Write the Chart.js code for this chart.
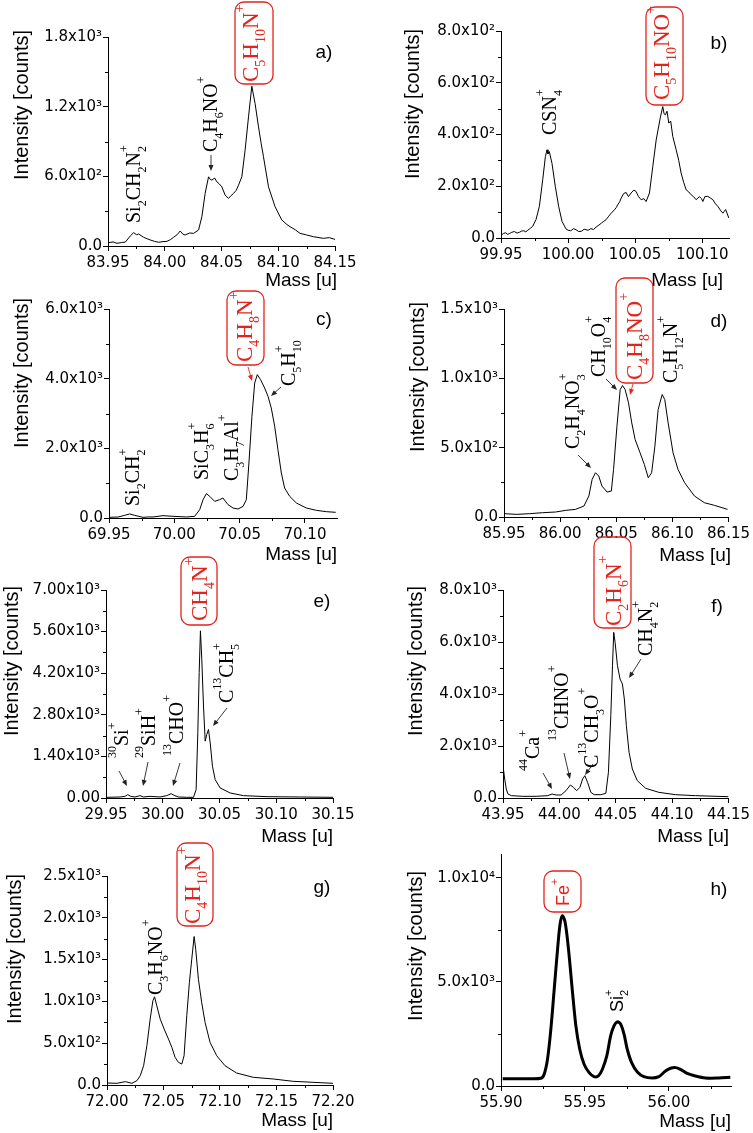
<!DOCTYPE html>
<html><head><meta charset="utf-8">
<script src="https://cdn.jsdelivr.net/npm/chart.js@4.4.1/dist/chart.umd.min.js"></script>
<style>
html,body{margin:0;padding:0;background:#fff;}
#wrap{position:relative;width:753px;height:1133px;overflow:hidden;background:#fff;}
canvas{position:absolute;}
</style></head><body><div id="wrap"></div>
<script>
// ---------- DATA ----------
const massA = [83.9506,83.9545,83.9579,83.962,83.9653,83.9696,83.9726,83.975,83.977,83.9814,83.9845,83.9872,83.991,83.9946,83.9985,84.0019,84.005,84.0078,84.011,84.0136,84.016,84.018,84.022,84.0254,84.0298,84.0327,84.0356,84.0386,84.040,84.0415,84.044,84.0459,84.048,84.0503,84.0532,84.0562,84.058,84.0606,84.063,84.065,84.0679,84.0708,84.0738,84.0767,84.0796,84.0826,84.085,84.087,84.0914,84.0972,84.1031,84.107,84.1104,84.115,84.1192,84.125,84.131,84.1398,84.145,84.15];
const intA  = [29,35,23,30,34,86,115,98,103,75,62,52,40,32,38,40,55,75,98,129,102,95,112,109,138,252,453,596,575,567,585,553,535,510,438,410,430,453,480,524,596,825,1112,1376,1227,1026,880,768,510,338,224,190,166,140,109,95,80,66,72,57];

const massB = [99.9507,99.952,99.9535,99.955,99.9562,99.958,99.96,99.962,99.9637,99.9655,99.967,99.9685,99.97,99.972,99.9736,99.9761,99.9786,99.9811,99.9831,99.9843,99.985,99.986,99.988,99.9905,99.993,99.9955,99.9985,100.000,100.002,100.004,100.006,100.008,100.010,100.012,100.0134,100.015,100.017,100.019,100.0209,100.023,100.025,100.0265,100.0284,100.030,100.032,100.0346,100.036,100.037,100.0385,100.0396,100.0415,100.0433,100.045,100.047,100.049,100.0507,100.0525,100.0545,100.0565,100.0582,100.0607,100.0632,100.0657,100.0687,100.0706,100.0716,100.0726,100.0738,100.0751,100.0765,100.0781,100.0806,100.0825,100.0843,100.0862,100.0881,100.09,100.0918,100.0935,100.0955,100.098,100.0995,100.1005,100.102,100.1042,100.106,100.108,100.1095,100.1117,100.1135,100.1154,100.1175,100.1199];
const intB  = [13,18,20,14,17,22,25,19,22,27,28,24,30,38,45,71,122,225,315,341,325,334,289,199,122,64,35,30,28,36,32,25,26,34,32,30,36,33,42,50,58,64,71,82,95,109,118,128,140,154,172,176,160,174,185,180,160,148,152,141,174,277,379,463,508,480,476,490,444,452,392,341,300,251,215,186,178,167,160,148,160,152,141,160,161,155,148,135,122,108,96,110,77];

const massC = [69.9505,69.957,69.962,69.9658,69.9696,69.976,69.98,69.9837,69.9913,69.999,70.0092,70.0156,70.0194,70.022,70.0245,70.0271,70.0309,70.0347,70.0372,70.0411,70.0449,70.0487,70.0526,70.0551,70.0571,70.0594,70.0615,70.0635,70.066,70.0691,70.0717,70.0742,70.0768,70.0793,70.0819,70.0844,70.0883,70.0934,70.101,70.1087,70.1163,70.1235];
const intC  = [19,29,77,115,77,19,30,29,67,48,29,48,239,526,699,622,478,526,574,383,287,258,335,526,1579,2919,3875,4115,3971,3732,3493,3158,2632,1962,1292,861,622,431,287,220,182,163];

const massD = [85.9506,85.9609,85.9726,85.9844,85.996,86.005,86.0138,86.0212,86.0256,86.0285,86.0315,86.0344,86.0373,86.0418,86.0456,86.0476,86.0506,86.0535,86.0556,86.0579,86.0609,86.0638,86.0668,86.0712,86.075,86.0785,86.0815,86.0844,86.0873,86.0909,86.0932,86.0962,86.1006,86.105,86.1109,86.1197,86.1285,86.1374,86.1491];
const intD  = [24,19,24,31,36,48,55,79,151,271,319,295,223,180,187,343,655,919,948,919,823,679,559,463,379,283,319,511,775,883,847,679,463,343,247,151,103,84,55];

const massE = [29.9506,29.9624,29.9668,29.9691,29.9718,29.9756,29.98,29.983,29.9888,29.9976,30.0035,30.0074,30.01,30.0138,30.0212,30.0271,30.0294,30.0309,30.0321,30.0332,30.0344,30.0359,30.0374,30.0388,30.0403,30.0418,30.0438,30.0462,30.0506,30.0594,30.0712,30.0918,30.1212,30.15];
const intE  = [23,34,56,113,56,34,79,34,56,34,79,146,90,34,23,23,281,2195,4220,5627,4670,3095,1913,2138,2307,1857,1069,619,338,169,79,45,34,23];

const massF = [43.95,43.9515,43.9529,43.9544,43.9574,43.9676,43.9794,43.9897,43.9935,43.9971,44.0015,44.0059,44.0097,44.0126,44.0153,44.0182,44.0206,44.0226,44.025,44.0279,44.0309,44.0368,44.0412,44.0435,44.0456,44.0471,44.0482,44.0494,44.0515,44.0538,44.0559,44.0576,44.0594,44.0618,44.0647,44.0691,44.0765,44.0882,44.1029,44.1206,44.15];
const intF  = [1244,731,346,154,90,64,64,90,154,115,115,282,500,410,282,410,731,859,603,218,128,128,180,987,3167,5090,6372,5987,5090,4577,4384,3808,2782,1756,1115,667,372,218,128,90,51];

const massG = [72.0006,72.0088,72.0162,72.022,72.0265,72.0294,72.0324,72.0353,72.0382,72.0406,72.0421,72.0441,72.0471,72.0506,72.0544,72.0574,72.0603,72.0632,72.0662,72.0682,72.0706,72.0729,72.075,72.0771,72.0785,72.0809,72.0838,72.0868,72.0912,72.0971,72.1044,72.1147,72.1294,72.147,72.1647,72.1824,72.2];
const intG  = [24,20,40,20,52,111,231,470,788,1007,1055,947,788,669,549,450,330,271,251,350,828,1226,1505,1776,1624,1266,987,748,510,350,231,143,92,72,44,32,20];

const massH = [55.901,55.9149,55.9238,55.9257,55.9277,55.9297,55.9317,55.9337,55.9352,55.9366,55.9382,55.9402,55.9426,55.9446,55.9469,55.9495,55.9525,55.9554,55.958,55.9604,55.963,55.9653,55.9673,55.9693,55.9713,55.9733,55.9752,55.9778,55.9812,55.9851,55.9901,55.994,55.998,56.001,56.004,56.0069,56.0109,56.0158,56.0218,56.0297,56.0366];
const intH  = [353,353,369,562,1284,2729,4655,6581,7784,8186,7865,6581,4494,2889,1766,1043,642,449,482,803,1445,2408,2889,3082,2970,2488,1766,1124,674,449,385,449,722,851,883,803,610,482,385,385,417];

// tick values and labels
const xTicksA = [83.95,84.00,84.05,84.10,84.15];
const yTicksA = [0,600,1200,1800];        const yLabA = ['0.0','6.0x10²','1.2x10³','1.8x10³'];
const xTicksB = [99.95,100.00,100.05,100.10];
const yTicksB = [0,200,400,600,800];      const yLabB = ['0.0','2.0x10²','4.0x10²','6.0x10²','8.0x10²'];
const xTicksC = [69.95,70.00,70.05,70.10];
const yTicksC = [0,2000,4000,6000];       const yLabC = ['0.0','2.0x10³','4.0x10³','6.0x10³'];
const xTicksD = [85.95,86.00,86.05,86.10,86.15];
const yTicksD = [0,500,1000,1500];        const yLabD = ['0.0','5.0x10²','1.0x10³','1.5x10³'];
const xTicksE = [29.95,30.00,30.05,30.10,30.15];
const yTicksE = [0,1400,2800,4200,5600,7000]; const yLabE = ['0.00','1.40x10³','2.80x10³','4.20x10³','5.60x10³','7.00x10³'];
const xTicksF = [43.95,44.00,44.05,44.10,44.15];
const yTicksF = [0,2000,4000,6000,8000];  const yLabF = ['0.0','2.0x10³','4.0x10³','6.0x10³','8.0x10³'];
const xTicksG = [72.00,72.05,72.10,72.15,72.20];
const yTicksG = [0,500,1000,1500,2000,2500]; const yLabG = ['0.0','5.0x10²','1.0x10³','1.5x10³','2.0x10³','2.5x10³'];
const xTicksH = [55.90,55.95,56.00];
const yTicksH = [0,5000,10000];           const yLabH = ['0.0','5.0x10³','1.0x10⁴'];

// ---------- LAYOUT / STYLE ----------
const RED = '#e3241c';
const SERIF = '"Liberation Serif", "Times New Roman", serif';
const SANS = '"Liberation Sans", Arial, sans-serif';
const TICKFONT = 'DejaVu Sans';

const panels = [
 {m:massA, v:intA, xt:xTicksA, yt:yTicksA, yl:yLabA, xmin:83.95, xmax:84.15, ymax:1800, col:0,row:0,
  area:[108,335,37,246], letter:'a)', lp:[324,53], yT:[22,105], xT:[337,281], lw:1,
  ann:[
   {f:'Si_2CH_2N_2^+', x:140, y:223, s:20, c:'#000'},
   {f:'C_4H_6NO^+', x:217, y:152, s:20, c:'#000', arrow:[211,155,211,171]},
   {f:'C_5H_{10}N^+', x:258, y:82, s:23, c:RED, box:[235,2,38,82]}
  ]},
 {m:massB, v:intB, xt:xTicksB, yt:yTicksB, yl:yLabB, xmin:99.95, xmax:100.12, ymax:800, col:1,row:0,
  area:[501,729,31,238], letter:'b)', lp:[719,44], yT:[413,104], xT:[723,281], lw:1,
  ann:[
   {f:'CSN_4^+', x:556, y:135, s:20, c:'#000'},
   {f:'C_5H_{10}NO^+', x:669, y:100, s:23, c:RED, box:[646,7,37,98]}
  ]},
 {m:massC, v:intC, xt:xTicksC, yt:yTicksC, yl:yLabC, xmin:69.95, xmax:70.1245, ymax:6000, col:0,row:1,
  area:[109,337,309,518], letter:'c)', lp:[324,320], yT:[22,373], xT:[337,555], lw:1,
  ann:[
   {f:'Si_2CH_2^+', x:139, y:506, s:20, c:'#000'},
   {f:'SiC_3H_6^+', x:208, y:480, s:20, c:'#000'},
   {f:'C_3H_7Al^+', x:238, y:481, s:20, c:'#000'},
   {f:'C_4H_8N^+', x:252, y:362, s:23, c:RED, box:[227,291,37,74], arrow:[248,367,252,381]},
   {f:'C_5H_{10}^+', x:295, y:386, s:20, c:'#000', arrow:[281,387,271,396]}
  ]},
 {m:massD, v:intD, xt:xTicksD, yt:yTicksD, yl:yLabD, xmin:85.95, xmax:86.15, ymax:1500, col:1,row:1,
  area:[504,730,309,517], letter:'d)', lp:[719,322], yT:[418,377], xT:[731,556], lw:1,
  ann:[
   {f:'C_2H_4NO_3^+', x:579, y:449, s:20, c:'#000', arrow:[578,455,591,468]},
   {f:'CH_{10}O_4^+', x:605, y:377, s:20, c:'#000', arrow:[606,379,617,390]},
   {f:'C_4H_8NO^+', x:642, y:380, s:23, c:RED, box:[616,278,37,105], arrow:[633,384,630,395]},
   {f:'C_5H_{12}N^+', x:677, y:383, s:20, c:'#000'}
  ]},
 {m:massE, v:intE, xt:xTicksE, yt:yTicksE, yl:yLabE, xmin:29.95, xmax:30.15, ymax:7000, col:0,row:2,
  area:[106,333,590,798], letter:'e)', lp:[322,602], yT:[12,661], xT:[333,837], lw:1,
  ann:[
   {f:'^{30}Si^+', x:128, y:758, s:20, c:'#000', arrow:[119,771,127,786]},
   {f:'^{29}SiH^+', x:155, y:758, s:20, c:'#000', arrow:[148,762,143,786]},
   {f:'^{13}CHO^+', x:183, y:756, s:20, c:'#000', arrow:[180,763,173,786]},
   {f:'CH_4N^+', x:207, y:621, s:23, c:RED, box:[181,557,36,68]},
   {f:'C^{13}CH_5^+', x:233, y:703, s:20, c:'#000', arrow:[227,708,213,726]}
  ]},
 {m:massF, v:intF, xt:xTicksF, yt:yTicksF, yl:yLabF, xmin:43.95, xmax:44.15, ymax:8000, col:1,row:2,
  area:[503,729,590,798], letter:'f)', lp:[717,607], yT:[416,661], xT:[729,837], lw:1,
  ann:[
   {f:'^{44}Ca^+', x:539, y:771, s:20, c:'#000', arrow:[543,773,552,789]},
   {f:'^{13}CHNO^+', x:568, y:741, s:20, c:'#000', arrow:[564,753,570,779]},
   {f:'C^{13}CH_3O^+', x:598, y:768, s:20, c:'#000', arrow:[593,764,585,775]},
   {f:'C_2H_6N^+', x:621, y:626, s:23, c:RED, box:[594,537,37,91]},
   {f:'CH_4N_2^+', x:652, y:656, s:20, c:'#000', arrow:[641,659,629,678]}
  ]},
 {m:massG, v:intG, xt:xTicksG, yt:yTicksG, yl:yLabG, xmin:72.00, xmax:72.20, ymax:2500, col:0,row:3,
  area:[107,333,876,1085], letter:'g)', lp:[322,888], yT:[15,949], xT:[333,1121], lw:1,
  ann:[
   {f:'C_3H_6NO^+', x:162, y:995, s:20, c:'#000'},
   {f:'C_4H_{10}N^+', x:200, y:924, s:23, c:RED, box:[177,843,36,83]}
  ]},
 {m:massH, v:intH, xt:xTicksH, yt:yTicksH, yl:yLabH, xmin:55.90, xmax:56.037, ymax:11150, col:1,row:3,
  area:[501,731,854,1086], letter:'h)', lp:[719,890], yT:[416,946], xT:[731,1122], lw:3,
  ann:[
   {f:'Fe^+', x:569, y:906, s:18, c:RED, sans:true, box:[544,871,37,41]},
   {f:'Si_2^+', x:623, y:1012, s:18, c:'#000', sans:true}
  ]}
];

const rowTop = [0,283,566,849], rowBot = [283,566,849,1133];

// ---------- helpers ----------
function parseFormula(s){
  const parts=[]; let i=0, buf='';
  while(i<s.length){
    const c=s[i];
    if(c==='_'||c==='^'){
      if(buf){parts.push([buf,'n']);buf='';}
      i++; let t='';
      if(s[i]==='{'){ i++; while(s[i]!=='}'){t+=s[i];i++;} i++; } else { t=s[i]; i++; }
      parts.push([t, c==='_'?'b':'p']);
    } else { buf+=c; i++; }
  }
  if(buf) parts.push([buf,'n']);
  return parts;
}
function drawFormula(ctx, f, x, y, size, family, color){
  const parts=parseFormula(f);
  ctx.save(); ctx.translate(x,y); ctx.rotate(-Math.PI/2);
  ctx.fillStyle=color; ctx.textBaseline='alphabetic'; ctx.textAlign='left';
  let pos=0, prevType=null, prevStart=0;
  const ss=Math.round(size*0.62);
  for(const [t,ty] of parts){
    if(ty==='n'){
      ctx.font=size+'px '+family; ctx.fillText(t,pos,0); pos+=ctx.measureText(t).width;
    } else {
      ctx.font=ss+'px '+family;
      const w=ctx.measureText(t).width;
      if(ty==='p' && prevType==='b'){
        ctx.fillText(t,prevStart,-size*0.6);
        pos=Math.max(pos,prevStart+w);
      } else {
        ctx.fillText(t,pos, ty==='b'? size*0.3 : -size*0.6);
        prevStart=pos; pos+=w;
      }
    }
    prevType=ty;
  }
  ctx.restore();
}
function arrow(ctx,x1,y1,x2,y2,color){
  const a=Math.atan2(y2-y1,x2-x1), L=6, W=2.5;
  ctx.save(); ctx.strokeStyle=color; ctx.fillStyle=color; ctx.lineWidth=0.9;
  ctx.beginPath(); ctx.moveTo(x1,y1); ctx.lineTo(x2-Math.cos(a)*L*0.7, y2-Math.sin(a)*L*0.7); ctx.stroke();
  ctx.beginPath(); ctx.moveTo(x2,y2);
  ctx.lineTo(x2-L*Math.cos(a)+W*Math.sin(a), y2-L*Math.sin(a)-W*Math.cos(a));
  ctx.lineTo(x2-L*Math.cos(a)-W*Math.sin(a), y2-L*Math.sin(a)+W*Math.cos(a));
  ctx.closePath(); ctx.fill(); ctx.restore();
}
function rbox(ctx,x,y,w,h,r,color){
  ctx.save(); ctx.strokeStyle=color; ctx.lineWidth=1.3;
  ctx.beginPath();
  ctx.moveTo(x+r,y); ctx.lineTo(x+w-r,y); ctx.arcTo(x+w,y,x+w,y+r,r);
  ctx.lineTo(x+w,y+h-r); ctx.arcTo(x+w,y+h,x+w-r,y+h,r);
  ctx.lineTo(x+r,y+h); ctx.arcTo(x,y+h,x,y+h-r,r);
  ctx.lineTo(x,y+r); ctx.arcTo(x,y,x+r,y,r); ctx.closePath(); ctx.stroke(); ctx.restore();
}

function decoPlugin(p, cL, cT){
  return {
    id:'deco'+p.letter[0],
    afterDraw(chart){
      const ctx=chart.ctx, xs=chart.scales.x, ys=chart.scales.y, ca=chart.chartArea;
      ctx.save();
      // minor ticks
      ctx.strokeStyle='#000'; ctx.lineWidth=1;
      const minors=(t,min,max)=>{const out=[];const st=t[1]-t[0];
        for(let i=0;i<t.length-1;i++) out.push((t[i]+t[i+1])/2);
        if(t[0]-st/2>=min-1e-9) out.unshift(t[0]-st/2);
        if(t[t.length-1]+st/2<=max+1e-9) out.push(t[t.length-1]+st/2);
        return out;};
      for(const v of minors(p.xt,p.xmin,p.xmax)){const px=Math.round(xs.getPixelForValue(v))+0.5;
        ctx.beginPath(); ctx.moveTo(px,ca.bottom); ctx.lineTo(px,ca.bottom+3); ctx.stroke();}
      for(const v of minors(p.yt,0,p.ymax)){const py=Math.round(ys.getPixelForValue(v))+0.5;
        ctx.beginPath(); ctx.moveTo(ca.left-3,py); ctx.lineTo(ca.left,py); ctx.stroke();}
      ctx.translate(-cL,-cT);
      // axis titles
      ctx.fillStyle='#000';
      ctx.font='20px '+SANS; ctx.textAlign='center'; ctx.textBaseline='middle';
      ctx.save(); ctx.translate(p.yT[0],p.yT[1]); ctx.rotate(-Math.PI/2); ctx.fillText('Intensity [counts]',0,0); ctx.restore();
      ctx.font='19px '+SANS; ctx.textAlign='right';
      ctx.fillText('Mass [u]',p.xT[0],p.xT[1]);
      ctx.textAlign='center'; ctx.font='19px '+SANS;
      ctx.fillText(p.letter,p.lp[0],p.lp[1]);
      // annotations
      for(const a of p.ann){
        if(a.box) rbox(ctx,a.box[0],a.box[1],a.box[2],a.box[3],9,RED);
        drawFormula(ctx,a.f,a.x,a.y,a.s,a.sans?SANS:SERIF,a.c);
        if(a.arrow) arrow(ctx,a.arrow[0],a.arrow[1],a.arrow[2],a.arrow[3],a.c===RED?RED:'#222');
      }
      ctx.restore();
    }
  };
}

const wrap=document.getElementById('wrap');
for(const p of panels){
  const cL = p.col ? 376 : 0, cW = p.col ? 377 : 376;
  const cT = rowTop[p.row] - (p.row ? 45 : 0);
  const cB = Math.min(1133, rowBot[p.row] + 20);
  const cH = cB - cT;
  const [x0,x1,y0,y1]=p.area;
  const cv=document.createElement('canvas');
  cv.width=cW; cv.height=cH;
  cv.style.left=cL+'px'; cv.style.top=cT+'px'; cv.style.width=cW+'px'; cv.style.height=cH+'px';
  wrap.appendChild(cv);
  const pts=p.m.map((m,i)=>({x:m,y:p.v[i]}));
  const tickFont={family:TICKFONT,size:15};
  new Chart(cv,{
    type:'line',
    data:{datasets:[{data:pts,borderColor:'#000',borderWidth:p.lw,pointRadius:0,tension:p.lw>1?0.3:0,fill:false}]},
    options:{
      responsive:false, animation:false, devicePixelRatio:1,
      layout:{padding:{left:0,top:y0-cT,right:(cL+cW)-x1,bottom:0}},
      plugins:{legend:{display:false},tooltip:{enabled:false}},
      scales:{
        x:{type:'linear',min:p.xmin,max:p.xmax,
          afterFit:s=>{s.height=(cT+cH)-y1;},
          afterBuildTicks:s=>{s.ticks=p.xt.map(v=>({value:v}));},
          ticks:{callback:v=>Number(v).toFixed(2),font:tickFont,color:'#000',maxRotation:0,minRotation:0,autoSkip:false,padding:3},
          grid:{drawOnChartArea:false,drawTicks:true,tickLength:5,color:'#000',lineWidth:1},
          border:{display:true,color:'#000',width:1}},
        y:{type:'linear',min:0,max:p.ymax,
          afterFit:s=>{s.width=x0-cL;},
          afterBuildTicks:s=>{s.ticks=p.yt.map(v=>({value:v}));},
          ticks:{callback:v=>p.yl[p.yt.indexOf(v)],font:tickFont,color:'#000',autoSkip:false,padding:1},
          grid:{drawOnChartArea:false,drawTicks:true,tickLength:5,color:'#000',lineWidth:1},
          border:{display:true,color:'#000',width:1}}
      }
    },
    plugins:[decoPlugin(p,cL,cT)]
  });
}
</script></body></html>
